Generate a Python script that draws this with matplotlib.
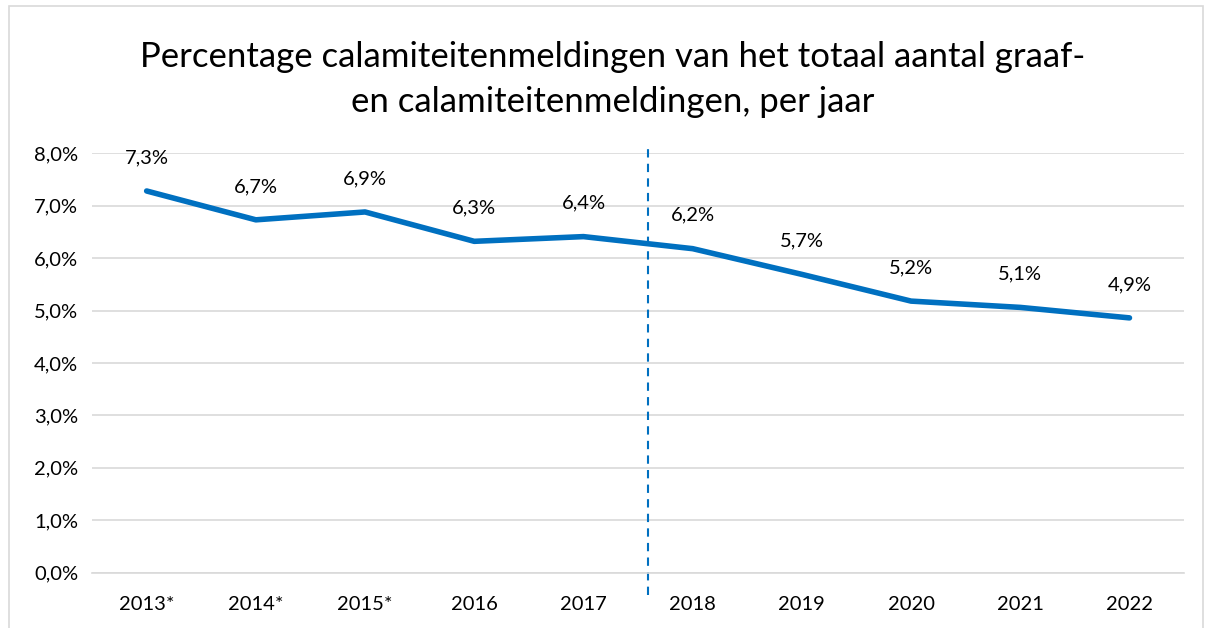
import matplotlib.pyplot as plt
from matplotlib.patches import Rectangle

years = ['2013*', '2014*', '2015*', '2016', '2017', '2018', '2019', '2020', '2021', '2022']
pct = [7.28, 6.73, 6.88, 6.32, 6.41, 6.18, 5.69, 5.18, 5.06, 4.86]
labels = ['7,3%', '6,7%', '6,9%', '6,3%', '6,4%', '6,2%', '5,7%', '5,2%', '5,1%', '4,9%']
yticks = [0, 1, 2, 3, 4, 5, 6, 7, 8]

plt.rcParams['font.family'] = ['Lato', 'DejaVu Sans']

fig = plt.figure(figsize=(12.08, 6.28), dpi=100)
ax = fig.add_axes([0.0762, 0.088, 0.904, 0.668])

x = list(range(len(years)))
ax.plot(x, pct, color='#0070C0', linewidth=4, solid_capstyle='round', zorder=3)
for xi, v, lab in zip(x, pct, labels):
    ax.annotate(lab, (xi, v), xytext=(0, 24), textcoords='offset points',
                ha='center', va='center', fontsize=14.5, color='#000000')

# dashed divider between 2017 and 2018
ax.plot([4.595, 4.595], [-0.43, 8.1], color='#0070C0', linewidth=1.5,
        linestyle=(0, (4, 3)), clip_on=False, zorder=2)

ax.set_xlim(-0.5, len(years) - 0.5)
ax.set_ylim(0, 8)
ax.set_xticks(x)
ax.set_xticklabels(years, fontsize=14.5)
ax.set_yticks(yticks)
ax.set_yticklabels([f'{t},0%' for t in yticks], fontsize=14.5)
ax.yaxis.grid(True, color='#D9D9D9', linewidth=1.2)
ax.set_axisbelow(True)
for s in ['top', 'right', 'left']:
    ax.spines[s].set_visible(False)
ax.spines['bottom'].set_color('#D9D9D9')
ax.spines['bottom'].set_linewidth(1.2)
ax.tick_params(length=0, pad=17)
ax.tick_params(axis='y', pad=10)

fig.text(0.507, 0.874, 'Percentage calamiteitenmeldingen van het totaal aantal graaf-\nen calamiteitenmeldingen, per jaar',
         ha='center', va='center', fontsize=25, linespacing=1.5)

fig.patches.append(Rectangle((0.0075, -0.01), 0.988, 1.0, transform=fig.transFigure,
                             fill=False, edgecolor='#D9D9D9', linewidth=1.2))

fig.savefig('out.png', dpi=100)
